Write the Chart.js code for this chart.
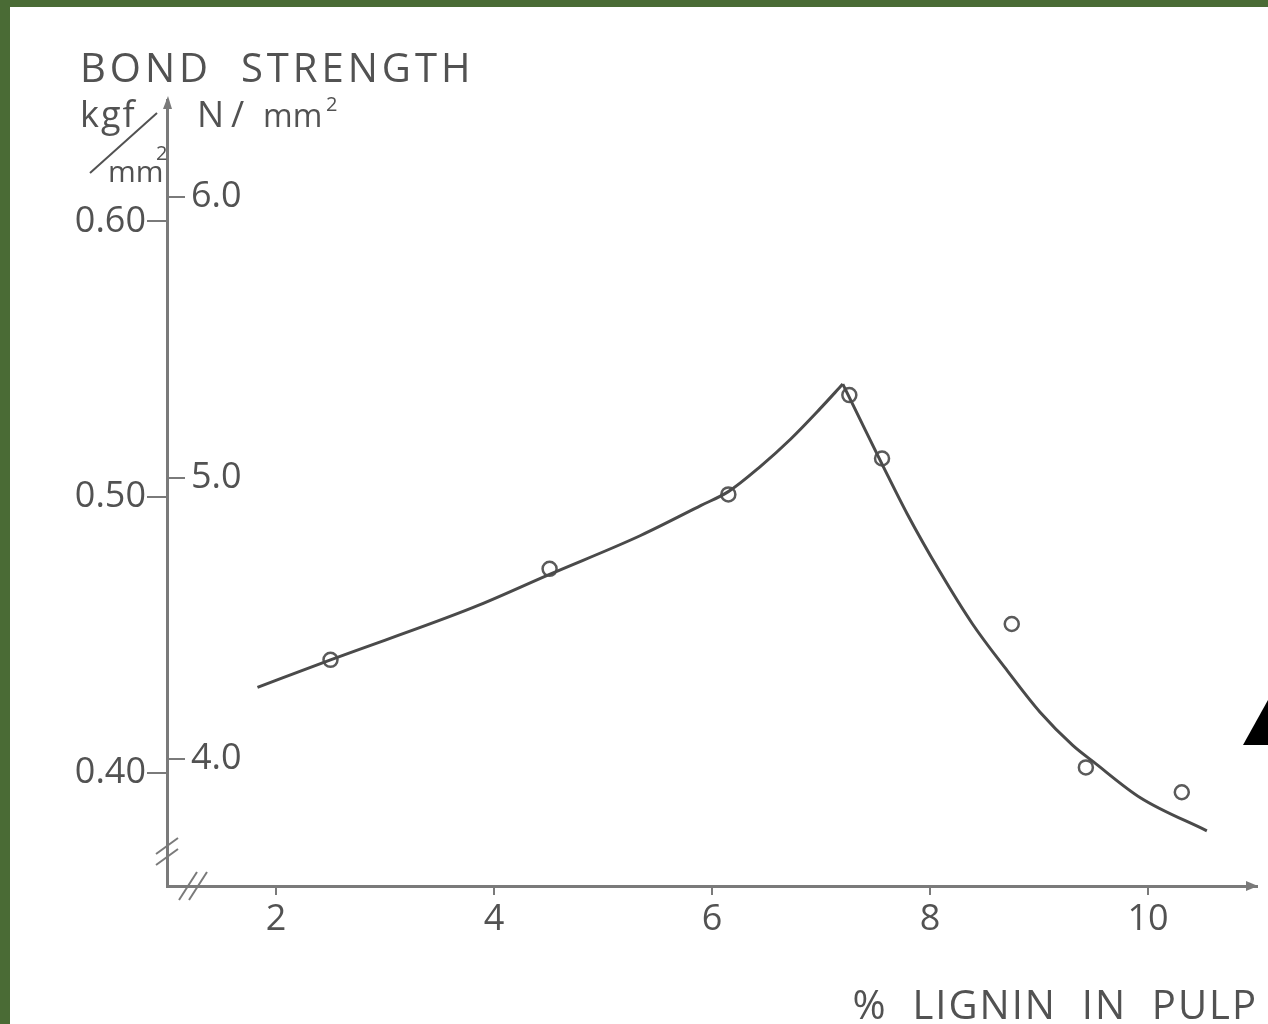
<!DOCTYPE html>
<html>
<head>
<meta charset="utf-8">
<script src="https://cdn.jsdelivr.net/npm/chart.js@4/dist/chart.umd.min.js"></script>
<style>
  html, body { margin: 0; padding: 0; background: #4a6b35; overflow: hidden; }
  #paper { position: absolute; left: 10px; top: 7px; width: 1258px; height: 1017px; background: #fff; }
</style>
</head>
<body>
<div id="paper"><canvas id="bondChart"></canvas></div>
<script>
// tick labels
const X_TICKS = [2, 4, 6, 8, 10];
const KGF_TICKS = [0.40, 0.50, 0.60];
const NMM_TICKS = [4.0, 5.0, 6.0];

// measured points (circles)
const POINT_X = [2.50, 4.51, 6.15, 7.26, 7.56, 8.75, 9.43, 10.31];
const POINT_Y = [0.441, 0.474, 0.501, 0.537, 0.514, 0.454, 0.402, 0.393];

// fitted curve, rising branch up to the peak, then falling branch
const RISE_X = [1.83, 2.50, 3.81, 4.51, 5.34, 5.90, 6.15, 6.44, 6.72, 6.99, 7.20];
const RISE_Y = [0.431, 0.441, 0.460, 0.472, 0.486, 0.497, 0.502, 0.511, 0.521, 0.532, 0.541];
const FALL_X = [7.20, 7.41, 7.56, 7.79, 8.09, 8.39, 8.71, 9.01, 9.31, 9.50, 9.93, 10.54];
const FALL_Y = [0.541, 0.524, 0.512, 0.494, 0.473, 0.454, 0.437, 0.422, 0.410, 0.404, 0.391, 0.379];

const INK = "#525252";
const AXIS = "#7a7a7a";
const FONT = "'Open Sans'";

const toXY = (xs, ys) => xs.map((x, i) => ({ x: x, y: ys[i] }));

Chart.defaults.font.family = FONT + ", sans-serif";
Chart.defaults.color = INK;

// arrows, axis breaks, axis titles
const decorations = {
  id: "decorations",
  afterDraw(chart) {
    const { ctx, chartArea } = chart;
    const L = chartArea.left, T = chartArea.top, B = chartArea.bottom, R = chartArea.right;
    ctx.save();
    ctx.fillStyle = AXIS;
    ctx.strokeStyle = AXIS;

    // arrow heads
    ctx.beginPath();
    ctx.moveTo(L + 1, T - 4);
    ctx.lineTo(L - 4, T + 9);
    ctx.lineTo(L + 5, T + 9);
    ctx.fill();
    ctx.beginPath();
    ctx.moveTo(R + 1, B);
    ctx.lineTo(R - 11, B - 5);
    ctx.lineTo(R - 11, B + 5);
    ctx.fill();

    // break marks
    ctx.lineWidth = 2;
    [B - 40, B - 29].forEach((cy) => {
      ctx.beginPath();
      ctx.moveTo(L - 11, cy + 8);
      ctx.lineTo(L + 11, cy - 8);
      ctx.stroke();
    });
    [L + 21, L + 31].forEach((cx) => {
      ctx.beginPath();
      ctx.moveTo(cx - 9, B + 14);
      ctx.lineTo(cx + 9, B - 14);
      ctx.stroke();
    });

    // y titles
    ctx.fillStyle = INK;
    ctx.textBaseline = "alphabetic";
    ctx.textAlign = "left";
    ctx.letterSpacing = "4px";
    ctx.font = "40px " + FONT;
    ctx.fillText("BOND  STRENGTH", 70, 75);

    ctx.letterSpacing = "2px";
    ctx.font = "36px " + FONT;
    ctx.fillText("kgf", 70, 120);
    ctx.lineWidth = 2;
    ctx.strokeStyle = INK;
    ctx.beginPath();
    ctx.moveTo(80, 166);
    ctx.lineTo(147, 106);
    ctx.stroke();
    ctx.letterSpacing = "0px";
    ctx.font = "30px " + FONT;
    ctx.fillText("mm", 98, 175);
    ctx.font = "20px " + FONT;
    ctx.fillText("2", 146, 153);

    ctx.font = "36px " + FONT;
    ctx.fillText("N", 187, 120);
    ctx.fillText("/", 221, 120);
    ctx.font = "32px " + FONT;
    ctx.fillText("mm", 253, 120);
    ctx.font = "20px " + FONT;
    ctx.fillText("2", 316, 104);

    // x title
    ctx.textAlign = "right";
    ctx.letterSpacing = "2px";
    ctx.font = "40px " + FONT;
    ctx.fillText("%  LIGNIN  IN  PULP", R + 1, 1012);

    // stray black marker at the right edge of the scan
    ctx.fillStyle = "#000";
    ctx.beginPath();
    ctx.moveTo(1233, 738);
    ctx.lineTo(1258, 693);
    ctx.lineTo(1258, 738);
    ctx.fill();
    ctx.restore();
  },
};

const curveStyle = {
  showLine: true,
  borderColor: "#4a4a4a",
  borderWidth: 3,
  pointRadius: 0,
  cubicInterpolationMode: "monotone",
  yAxisID: "y",
};

new Chart(document.getElementById("bondChart"), {
  type: "scatter",
  data: {
    datasets: [
      { label: "curve rising", data: toXY(RISE_X, RISE_Y), ...curveStyle },
      { label: "curve falling", data: toXY(FALL_X, FALL_Y), ...curveStyle },
      {
        label: "measured",
        data: toXY(POINT_X, POINT_Y),
        showLine: false,
        pointStyle: "circle",
        pointRadius: 7,
        pointBorderWidth: 2.5,
        pointBorderColor: "#5a5a5a",
        pointBackgroundColor: "#fff",
        yAxisID: "y",
      },
    ],
  },
  options: {
    responsive: true,
    maintainAspectRatio: false,
    animation: false,
    events: [],
    layout: { padding: { top: 93, right: 11, left: 0, bottom: 0 } },
    plugins: { legend: { display: false }, tooltip: { enabled: false } },
    scales: {
      x: {
        type: "linear",
        min: 1,
        max: 11,
        afterBuildTicks: (s) => { s.ticks = X_TICKS.map((v) => ({ value: v })); },
        afterFit: (s) => { s.height = 138; },
        ticks: { font: { size: 36 }, padding: 3, color: INK },
        grid: { drawOnChartArea: false, tickLength: 9, color: AXIS, lineWidth: 2 },
        border: { color: AXIS, width: 3 },
      },
      y: {
        type: "linear",
        position: "left",
        weight: 1,
        min: 0.359,
        max: 0.644,
        afterBuildTicks: (s) => { s.ticks = KGF_TICKS.map((v) => ({ value: v })); },
        afterFit: (s) => { s.width = 157; },
        ticks: { font: { size: 36 }, padding: 1, color: INK, callback: (v) => v.toFixed(2) },
        grid: { drawOnChartArea: false, tickLength: 20, color: AXIS, lineWidth: 2 },
        border: { color: AXIS, width: 3 },
      },
      y2: {
        type: "linear",
        position: "left",
        weight: 0,
        min: 3.548,
        max: 6.345,
        afterBuildTicks: (s) => { s.ticks = NMM_TICKS.map((v) => ({ value: v })); },
        afterFit: (s) => { s.width = 0; },
        ticks: { font: { size: 36 }, padding: 24, mirror: true, color: INK, callback: (v) => v.toFixed(1) },
        grid: { drawOnChartArea: false, tickLength: -18, color: AXIS, lineWidth: 2 },
        border: { display: false },
      },
    },
  },
  plugins: [decorations],
});
</script>
</body>
</html>
